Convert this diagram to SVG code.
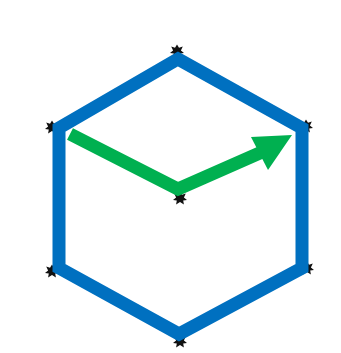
<svg xmlns="http://www.w3.org/2000/svg" width="341" height="353" viewBox="0 0 341 353">
<defs>
<style>
.mark{fill:#111111;}
.hex{fill:none;stroke:#0070C0;stroke-width:13;stroke-linejoin:miter;}
.arrow{fill:none;stroke:#00B050;stroke-width:13;stroke-linejoin:miter;stroke-linecap:butt;}
.head{fill:#00B050;}
</style>
<polygon id="blob" points="0,-6.5 2,-3.2 5.8,-4.5 3.9,-0.6 7,2 3.2,2.6 3.9,6.5 0,3.9 -3.9,6.5 -3.2,2.6 -7,2 -3.9,-0.6 -5.8,-4.5 -2,-3.2"/>
</defs>
<rect width="341" height="353" fill="#ffffff"/>
<g id="marks" class="mark">
<use href="#blob" x="177" y="51"/>
<use href="#blob" x="52" y="127"/>
<use href="#blob" x="306" y="126"/>
<use href="#blob" x="180" y="198"/>
<use href="#blob" x="52" y="271"/>
<use href="#blob" x="307" y="268"/>
<use href="#blob" x="180" y="341"/>
</g>
<g id="hexagon">
<polygon class="hex" points="178,59 302,128 302,268 179,334 59,268 59,128"/>
</g>
<g id="connectors">
<polyline class="arrow" points="70,134 178,189 262,152"/>
<polygon class="head" points="251,137 292,135 268,170"/>
</g>
</svg>
